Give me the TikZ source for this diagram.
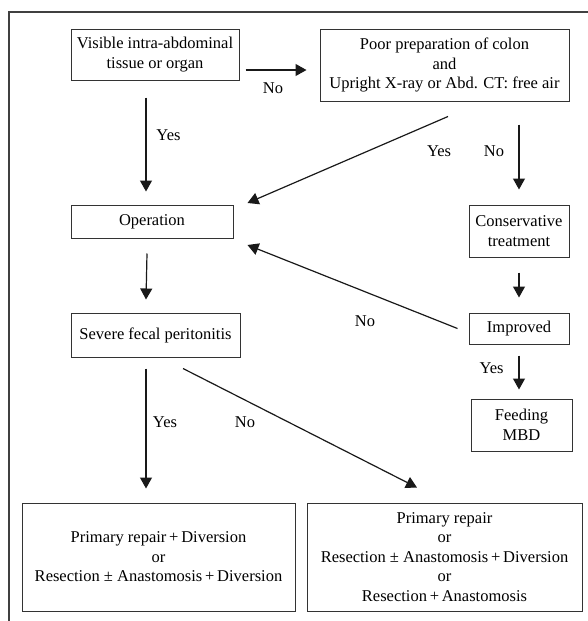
\documentclass[tikz,border=0pt]{standalone}
\usepackage{fontspec}
\setmainfont{Liberation Serif}
\usetikzlibrary{arrows.meta}

\begin{document}
\begin{tikzpicture}[x=1pt,y=-1pt,
  box/.style={draw=black!80,line width=1pt,align=center,inner sep=0pt,
    font=\fontsize{16.5}{19.5}\selectfont},
  arr/.style={draw=black!90,line width=1.2pt,-{Triangle[length=11pt,width=12pt]}},
  lbl/.style={font=\fontsize{16.5}{19.5}\selectfont}]
  \useasboundingbox (0,0) rectangle (588,621);
  \draw[black!75,line width=1.3pt] (9,621) -- (9,12) -- (588,12);

  \node[box,minimum width=168pt,minimum height=51pt] (visible) at (155,54.5)
    {Visible intra-abdominal\\tissue or organ};
  \node[box,minimum width=249pt,minimum height=72pt] (poor) at (444.5,65)
    {Poor preparation of colon\\and\\Upright X-ray or Abd. CT: free air};
  \node[box,minimum width=162pt,minimum height=33pt] (operation) at (152,221.5) {Operation};
  \node[box,minimum width=100pt,minimum height=52pt] (conservative) at (519,231)
    {Conservative\\treatment};
  \node[box,minimum width=100pt,minimum height=31pt] (improved) at (519,328.5) {Improved};
  \node[box,minimum width=101pt,minimum height=52pt] (feeding) at (521.5,425) {Feeding\\MBD};
  \node[box,minimum width=169pt,minimum height=44pt] (severe) at (155.5,335) {Severe fecal peritonitis};
  \node[box,minimum width=273pt,minimum height=108pt] (diversion) at (158.5,557)
    {Primary repair\,+\,Diversion\\or\\Resection ± Anastomosis\,+\,Diversion};
  \node[box,minimum width=275pt,minimum height=108pt] (repair) at (444.5,557)
    {Primary repair\\or\\Resection ± Anastomosis\,+\,Diversion\\or\\Resection\,+\,Anastomosis};

  \draw[arr] ([shift={(6,15.5)}]visible.east) -- ([shift={(-13,5)}]poor.west);
  \draw[arr] ([shift={(-9,17)}]visible.south) -- ([shift={(-6,-13)}]operation.north);
  \draw[arr] ([shift={(3.5,15)}]poor.south) -- ([shift={(14,-18.5)}]operation.east);
  \draw[arr] ([shift={(74.5,23)}]poor.south) -- ([shift={(0,-15)}]conservative.north);
  \draw[arr] ([shift={(0,15)}]conservative.south) -- ([shift={(0,-15)}]improved.north);
  \draw[arr] ([shift={(-11,0)}]improved.west) -- ([shift={(14,23.5)}]operation.east);
  \draw[arr] ([shift={(0,11)}]improved.south) -- ([shift={(-2.5,-9)}]feeding.north);
  \draw[arr] ([shift={(-5,15)}]operation.south) -- ([shift={(-9.5,-13)}]severe.north);
  \draw[arr] ([shift={(-9.5,11)}]severe.south) -- ([shift={(-12.5,-14)}]diversion.north);
  \draw[arr] ([shift={(27.5,11)}]severe.south) -- ([shift={(-27.5,-15)}]repair.north);

  \node[lbl] (no-air) at (273,88) {No};
  \node[lbl] (yes-visible) at (168.5,135) {Yes};
  \node[lbl] (yes-air) at (439,151) {Yes};
  \node[lbl] (no-conservative) at (494,151) {No};
  \node[lbl] (no-improved) at (365,321) {No};
  \node[lbl] (yes-improved) at (491.5,368) {Yes};
  \node[lbl] (yes-severe) at (165,422) {Yes};
  \node[lbl] (no-severe) at (245,422) {No};
\end{tikzpicture}
\end{document}
